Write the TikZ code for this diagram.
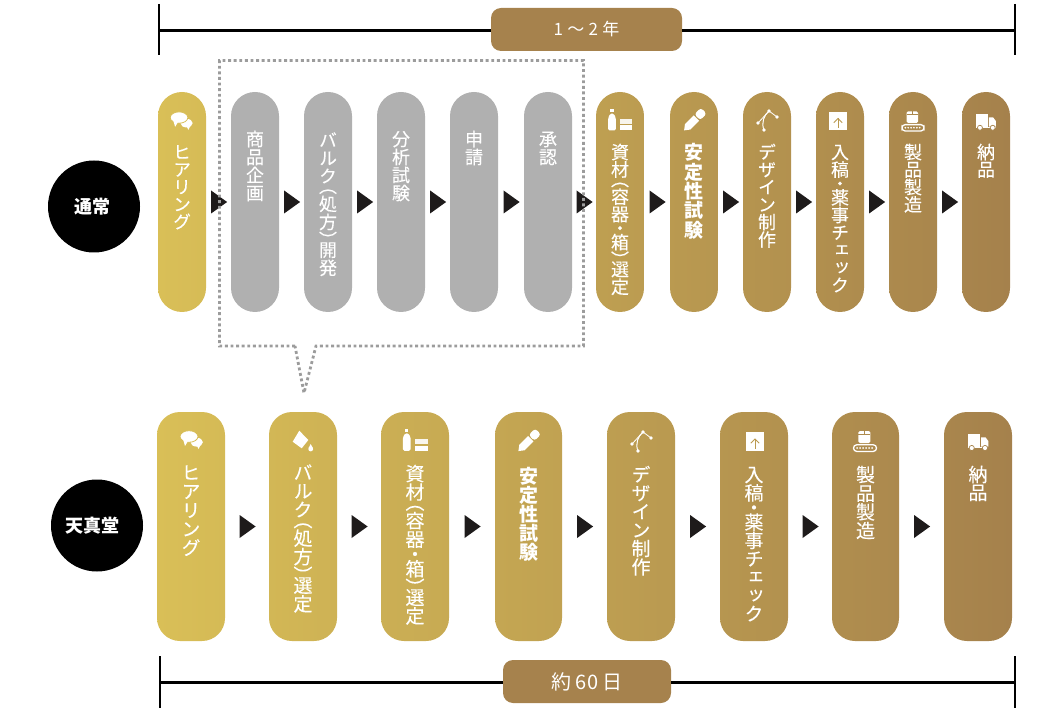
\documentclass[tikz,border=0pt]{standalone}
\usepackage{fontspec}
\usetikzlibrary{calc,shapes.geometric}
\setmainfont{Noto Sans CJK JP}
\newfontfamily\vfont[RawFeature=+vert,FakeBold=0.12]{Noto Sans CJK JP}
\newfontfamily\vfontb[RawFeature=+vert]{Noto Sans CJK JP}
\definecolor{gA}{HTML}{D9BF57}
\definecolor{gB}{HTML}{A5814C}
\definecolor{grp}{HTML}{B0B0B0}
\definecolor{lab}{HTML}{A6824D}
\definecolor{dotc}{HTML}{9C9C9C}
\definecolor{tric}{HTML}{1E1B1B}
\newlength\vsadv
\makeatletter
\def\vcell#1#2#3{\vbox to #2\vsadv{\kern-#1\vsadv\hbox to 1em{\hss\vrule height.88em depth.12em width0pt #3\hss}\vss}}
\def\vs@cell#1{\ifx#1（\vcell{.45}{.55}{#1}\else\ifx#1）\vcell{0}{.55}{#1}\else\ifx#1・\vcell{.2}{.6}{#1}\else\vcell{0}{1}{#1}\fi\fi\fi}
\def\vs@loop#1{\ifx#1\relax\else\vs@cell{#1}\expandafter\vs@loop\fi}
\newcommand\vstk[1]{\vbox{\offinterlineskip\vs@loop#1\relax}}
\makeatother
\newcommand\vtx[3]{\fontsize{#1}{#1}\selectfont\setlength\vsadv{#2pt}\vfont\vstk{#3}}
\newcommand\vtb[3]{\fontsize{#1}{#1}\selectfont\setlength\vsadv{#2pt}\vfontb\bfseries\vstk{#3}}
\tikzset{
  x=1pt,y=-1pt,
  pilla/.style={minimum width=48pt,minimum height=220pt,rounded corners=24pt,inner sep=0pt},
  pillb/.style={minimum height=229pt,rounded corners=23pt,inner sep=0pt},
  gp/.style 2 args={left color=gA!#1!gB,right color=gA!#2!gB},
  gray pill/.style={pilla,fill=grp},
  vt/.style={text=white,inner sep=0pt,anchor=north},
  tri/.style={isosceles triangle,isosceles triangle stretches,minimum width=23pt,minimum height=16pt,inner sep=0pt,fill=tric,xshift=-1.5pt},
  dots/.style={draw=dotc,line width=2.8pt,dash pattern=on 2.9pt off 2.7pt},
  span/.style={line width=2.6pt,draw=black},
  spanlab/.style={fill=lab,text=white,rounded corners=10pt,inner sep=0pt},
  badge/.style={circle,fill=black,text=white,minimum size=92pt,inner sep=0pt,font=\fontsize{18}{18}\selectfont\bfseries},
  pics/bubble/.style={code={
    \fill[white] (5.7,3.2) ellipse[x radius=6.2,y radius=4.4];
    \fill[white] (5.5,6) -- (9.5,6) -- (7.5,10) -- cycle;
    \fill[white,draw=#1,line width=.8pt] (-2,-2.5) ellipse[x radius=9,y radius=5.8];
    \fill[white] (-8,0) -- (-3,2) -- (-6,7) -- cycle;
  }},
  pics/bucket/.style={code={
    \fill[white] (-4.7,-9.3) -- (4.3,0) -- (-2.3,8.3) -- (-11.3,1.7) -- cycle;
    \fill[white] (6.7,9) circle[radius=2.4];
    \fill[white] (4.5,8.2) -- (6.7,4) -- (8.9,8.2) -- cycle;
  }},
  pics/bottle/.style={code={
    \fill[white] (-9.6,-11) rectangle (-6.4,-8);
    \fill[white,rounded corners=1.5pt] (-11.8,10) -- (-11.8,-3) -- (-9.6,-7) -- (-6.4,-7) -- (-4.2,-3) -- (-4.2,10) -- cycle;
    \fill[white,opacity=.9] (0,-1) rectangle (12.3,3.5);
    \fill[white] (0,5) rectangle (12.3,10);
  }},
  pics/pen/.style={code={
    \begin{scope}[rotate=45]
    \fill[white] (-14,0) -- (-9,-3.8) -- (3.5,-3.8) -- (3.5,3.8) -- (-9,3.8) -- cycle;
    \fill[white,rounded corners=3pt] (4.6,-4.2) -- (13.8,-4.2) -- (13.8,4.2) -- (4.6,4.2) -- cycle;
    \end{scope}
  }},
  pics/bezier/.style={code={
    \draw[white,line width=.8pt] (-9,3) -- (2,-9) -- (10,-3);
    \draw[white,line width=1pt] (-3,10) .. controls (-6,3) and (-3,-5) .. (2,-9);
    \foreach \p in {(-9,3),(2,-9),(10,-3),(-3,10)} \fill[white] \p circle[radius=1.9];
  }},
  pics/upbox/.style={code={
    \fill[white] (-9,-9.2) rectangle (9,9.2);
    \draw[#1,line width=.9pt] (0,7) -- (0,-2.5);
    \draw[#1,line width=.9pt] (-4.2,1.7) -- (0,-2.5) -- (4.2,1.7);
  }},
  pics/conveyor/.style={code={
    \fill[white,rounded corners=1.5pt] (-6.7,-10) rectangle (5.3,2);
    \fill[#1] (-6.7,-7.4) rectangle (5.3,-6.6);
    \fill[#1] (-1.2,-10) rectangle (-.2,-7);
    \draw[white,line width=1.3pt,rounded corners=3.2pt] (-11.5,3.8) rectangle (11.5,10.4);
    \foreach \q in {-8,-5,-2,1,4,7} \fill[white] (\q,7) circle[radius=1];
  }},
  pics/truck/.style={code={
    \fill[white] (-10.3,-8) rectangle (2,4.7);
    \fill[white] (3,-4.7) -- (7.5,-4.7) -- (10.3,-1) -- (10.3,4.7) -- (3,4.7) -- cycle;
    \draw[white,line width=1.2pt] (-10.3,5.8) -- (10.3,5.8);
    \fill[white,draw=#1,line width=.7pt] (-6.3,6) circle[radius=2.6];
    \fill[white,draw=#1,line width=.7pt] (7,6) circle[radius=2.6];
  }},
}
\begin{document}
\begin{tikzpicture}
\useasboundingbox (0,0) rectangle (1060,711);
% top span
\coordinate (tl) at (159,30.5);
\coordinate (tr) at (1015,30.5);
\node[spanlab,minimum width=191pt,minimum height=43pt,font=\fontsize{17}{17}\selectfont] (toplab) at (586.5,29.5) {1\hspace{.25em}～\hspace{.25em}2\hspace{.25em}年};
\draw[span] (tl) -- (toplab.west |- tl);
\draw[span] (toplab.east |- tr) -- (tr);
\draw[span] ([yshift=26.5pt]tl) -- ([yshift=-25pt]tl);
\draw[span] ([yshift=26.5pt]tr) -- ([yshift=-25pt]tr);
% badges
\node[badge] (b1) at (94,206.5) {\hspace*{-3pt}\raisebox{-1pt}{通常}};
\node[badge] (b2) at (97,525.5) {\hspace*{-9pt}\raisebox{-1.5pt}{天真堂}};
% row 1 pills
\node[pilla,gp={100}{94}] (a1) at (182,202) {};
\node[gray pill] (a2) at (255,202) {};
\node[gray pill] (a3) at (328,202) {};
\node[gray pill] (a4) at (401,202) {};
\node[gray pill] (a5) at (474,202) {};
\node[gray pill] (a6) at (548,202) {};
\node[pilla,gp={49}{43}] (a7) at (620,202) {};
\node[pilla,gp={40}{34}] (a8) at (694,202) {};
\node[pilla,gp={31}{26}] (a9) at (767,202) {};
\node[pilla,gp={23}{17}] (a10) at (840,202) {};
\node[pilla,gp={14}{9}] (a11) at (913,202) {};
\node[pilla,gp={6}{0}] (a12) at (986,202) {};
% row 1 arrows
\foreach \i/\j in {1/2,2/3,3/4,4/5,5/6,6/7,7/8,8/9,9/10,10/11,11/12}
  \node[tri] (ta\i) at ($(a\i.east)!.5!(a\j.west)$) {};
% row 1 text
\node[vt] (la1) at ([yshift=-51pt]a1.north) {\vtx{18}{17.4}{ヒアリング}};
\node[vt] (la2) at ([yshift=-38pt]a2.north) {\vtx{18}{18}{商品企画}};
\node[vt] (la3) at ([yshift=-39pt]a3.north) {\vtx{18}{18}{バルク（処方）開発}};
\node[vt] (la4) at ([yshift=-38pt]a4.north) {\vtx{18}{18}{分析試験}};
\node[vt] (la5) at ([yshift=-38pt]a5.north) {\vtx{18}{18}{申請}};
\node[vt] (la6) at ([yshift=-38pt]a6.north) {\vtx{18}{18}{承認}};
\node[vt] (la7) at ([yshift=-51pt]a7.north) {\vtx{18}{17.5}{資材（容器・箱）選定}};
\node[vt] (la8) at ([yshift=-51pt]a8.north) {\vtb{19}{19.4}{安定性試験}};
\node[vt] (la9) at ([yshift=-51pt]a9.north) {\vtx{18}{17.5}{デザイン制作}};
\node[vt] (la10) at ([yshift=-51pt]a10.north) {\vtx{18}{17.5}{入稿・薬事チェック}};
\node[vt] (la11) at ([yshift=-51pt]a11.north) {\vtx{18}{17.5}{製品製造}};
\node[vt] (la12) at ([yshift=-51pt]a12.north) {\vtx{18}{17.5}{納品}};
% row 1 icons
\pic[scale=.98] at (181,120) {bubble={gA!98!gB}};
\pic at (620,120.5) {bottle};
\pic at (694,120.5) {pen};
\pic at (767,120) {bezier};
\pic at (838,121) {upbox={gB!60!gA}};
\pic[scale=.96] at (913,121) {conveyor={gA!12!gB}};
\pic[scale=.96] at (986,122) {truck={gA!3!gB}};
% row 2 pills
\node[pillb,minimum width=68pt,gp={100}{92}] (c1) at (191,526.5) {};
\node[pillb,minimum width=68pt,gp={87}{79}] (c2) at (303,526.5) {};
\node[pillb,minimum width=68pt,gp={74}{66}] (c3) at (415,526.5) {};
\node[pillb,minimum width=67pt,gp={60}{53}] (c4) at (528.5,526.5) {};
\node[pillb,minimum width=68pt,gp={47}{39}] (c5) at (641,526.5) {};
\node[pillb,minimum width=68pt,gp={34}{26}] (c6) at (754,526.5) {};
\node[pillb,minimum width=67pt,gp={21}{13}] (c7) at (865.5,526.5) {};
\node[pillb,minimum width=68pt,gp={8}{0}] (c8) at (978,526.5) {};
\foreach \i/\j in {1/2,2/3,3/4,4/5,5/6,6/7,7/8}
  \node[tri] (tc\i) at ($(c\i.east)!.5!(c\j.west)$) {};
% row 2 text
\node[vt] (lc1) at ([yshift=-51pt]c1.north) {\vtx{19}{18.8}{ヒアリング}};
\node[vt] (lc2) at ([yshift=-51pt]c2.north) {\vtx{19}{18.5}{バルク（処方）選定}};
\node[vt] (lc3) at ([yshift=-52pt]c3.north) {\vtx{19}{18.5}{資材（容器・箱）選定}};
\node[vt] (lc4) at ([yshift=-55pt]c4.north) {\vtb{19}{19}{安定性試験}};
\node[vt] (lc5) at ([yshift=-53pt]c5.north) {\vtx{19}{18.5}{デザイン制作}};
\node[vt] (lc6) at ([yshift=-53pt]c6.north) {\vtx{19}{18.3}{入稿・薬事チェック}};
\node[vt] (lc7) at ([yshift=-53pt]c7.north) {\vtx{19}{18.7}{製品製造}};
\node[vt] (lc8) at ([yshift=-53pt]c8.north) {\vtx{19}{18}{納品}};
% row 2 icons
\pic at (191,439) {bubble={gA!96!gB}};
\pic at (304,440) {bucket};
\pic[scale=1.03] at (415,440.5) {bottle};
\pic at (528.3,441.2) {pen};
\pic at (641,441) {bezier};
\pic at (755,441.5) {upbox={gB!60!gA}};
\pic at (865,441) {conveyor={gA!17!gB}};
\pic at (978,442) {truck={gA!4!gB}};
% dotted callout
\coordinate (d1) at (295,346);
\coordinate (d2) at (219.5,346);
\coordinate (d3) at (219.5,60.5);
\coordinate (d4) at (583.5,60.5);
\coordinate (d5) at (583.5,346);
\coordinate (d6) at (316,346);
\coordinate (d7) at (304,393);
\draw[dots] (d1) -- (d2) -- (d3) -- (d4) -- (d5) -- (d6) -- (d7) -- (d1);
% bottom span
\coordinate (bl) at (160,682.5);
\coordinate (br) at (1015,682.5);
\node[spanlab,minimum width=168pt,minimum height=43pt,font=\fontsize{20}{20}\selectfont] (botlab) at (587,681.5) {約 60 日};
\draw[span] (bl) -- (botlab.west |- bl);
\draw[span] (botlab.east |- br) -- (br);
\draw[span] ([yshift=26.5pt]bl) -- ([yshift=-25.5pt]bl);
\draw[span] ([yshift=26.5pt]br) -- ([yshift=-25.5pt]br);
\end{tikzpicture}
\end{document}
